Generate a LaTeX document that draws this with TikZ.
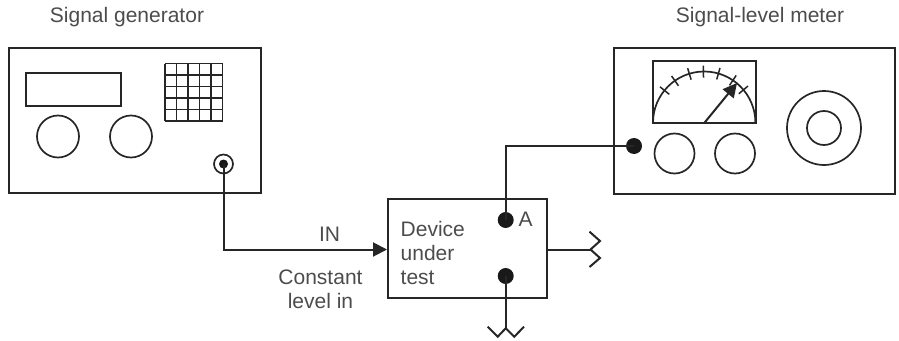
\documentclass[tikz,border=0pt]{standalone}
\usepackage{fontspec}
\setmainfont{Liberation Sans}
\usetikzlibrary{arrows.meta}
\tikzset{
  panel/.style={draw=black!85,line width=2pt,minimum width=#1,inner sep=0pt},
  knob/.style={draw=black!85,circle,line width=1.7pt,minimum size=#1,inner sep=0pt},
  dot/.style={fill=black!90,circle,minimum size=#1,inner sep=0pt},
  lab/.style={text=black!70,font=\fontsize{21}{24}\selectfont,inner sep=0pt},
  wire/.style={draw=black!85,line width=2pt}
}
\begin{document}
\begin{tikzpicture}[>={Triangle[length=14pt,width=14pt]},x=1pt,y=-1pt]
\useasboundingbox (0,0) rectangle (899,340);
% signal generator
\node[lab] (gentitle) at (127,17.5) {Signal generator};
\node[panel=252.5pt,minimum height=145.5pt] (gen) at (134.75,120.25) {};
\node[panel=95pt,minimum height=33pt] (display) at (73.5,89.5) {};
\node[knob=42pt] (genA) at (58,136.5) {};
\node[knob=42pt] (genB) at (131,136.5) {};
\foreach \i in {0,...,5}{
  \draw[line width=1.7pt,draw=black!85] (165+11.5*\i,63.5)--(165+11.5*\i,121);
  \draw[line width=1.7pt,draw=black!85] (165,63.5+11.5*\i)--(222.5,63.5+11.5*\i);
}
\node[knob=19pt] (jack) at (223.5,164) {};
\node[dot=9pt] (jackin) at (223.5,164) {};
% device under test
\node[panel=159pt,minimum height=99pt] (dut) at (467.5,248.5) {};
\coordinate (dutin) at (387,249.5);
\coordinate (dutout) at (591,249.5);
\coordinate (dutlow) at (505.7,329);
\node[dot=16pt] (dutA) at (505.7,220) {};
\node[dot=16pt] (dutB) at (505.7,276) {};
\node[lab] (A) at (525.5,219.5) {A};
\node[lab,align=left,anchor=west] (dutlab) at (400.5,252.5) {Device\\under\\test};
\node[lab] (inlab) at (329.5,234) {IN};
\node[lab,align=center] (levellab) at (320.5,289) {Constant\\level in};
% signal-level meter
\node[lab] (metertitle) at (760,17.5) {Signal-level meter};
\node[panel=281pt,minimum height=146pt] (meter) at (754.5,120.5) {};
\node[panel=102.5pt,minimum height=62.5pt] (window) at (704.25,91.75) {};
\coordinate (pivot) at (704.5,122.7);
\coordinate (tip) at (737,83);
\draw[line width=1.7pt,draw=black!85] (653,122.7) arc[start angle=180,end angle=360,radius=51.2];
\foreach \a in {141,125,107,91,74,56,40}
  \draw[line width=1.5pt,draw=black!85] ([shift={(-\a:45)}]704.3,122.7)--([shift={(-\a:57)}]704.3,122.7);
\draw[wire,->] (pivot)--(tip);
\node[dot=16pt] (meterin) at (634,146) {};
\node[knob=40pt] (meterA) at (674.5,153.5) {};
\node[knob=40pt] (meterB) at (735,153.5) {};
\node[knob=74pt] (dialout) at (824,128) {};
\node[knob=34pt] (dialin) at (824,128) {};
% wiring
\draw[wire,->] (jack.center)|-(dutin);
\draw[wire] (dutA.center)|-(meterin.center);
\draw[wire] (dutB.center)--(dutlow);
\draw[wire] (dut.east|-dutout)--(dutout);
\draw[wire] (589.5,231.7)--(600,241)--(590.5,249.5)--(600,258)--(589.5,267);
\draw[wire] (487.7,326.7)--(497.7,336.7)--(505.7,328.3)--(514.3,336.7)--(524,326.7);
\end{tikzpicture}
\end{document}
